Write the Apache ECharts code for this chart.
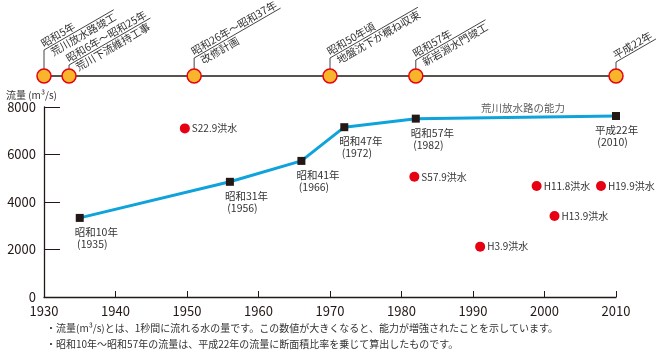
<!DOCTYPE html>
<html>
<head>
<meta charset="utf-8">
<script src="https://cdn.jsdelivr.net/npm/echarts@6/dist/echarts.min.js"></script>
<style>
html,body{margin:0;padding:0;background:#fff;}
#chart{width:670px;height:355px;}
</style>
</head>
<body>
<div id="chart"></div>
<script>
// ---- data ----
const eventYears = [1930, 1933.5, 1951, 1970, 1982, 2010];
const eventDates = ['昭和5年', '昭和6年～昭和25年', '昭和26年～昭和37年', '昭和50年頃', '昭和57年', '平成22年'];
const eventNotes = ['荒川放水路竣工', '荒川下流維持工事', '改修計画', '地盤沈下が概ね収束', '新岩淵水門竣工', ''];

const capacityYears = [1935, 1956, 1966, 1972, 1982, 2010];
const capacityValues = [3330, 4850, 5730, 7150, 7510, 7620];
const capacityEras = ['昭和10年', '昭和31年', '昭和41年', '昭和47年', '昭和57年', '平成22年'];

const floodNames = ['S22.9洪水', 'S57.9洪水', 'H3.9洪水', 'H11.8洪水', 'H13.9洪水', 'H19.9洪水'];
const floodYears = [1949.7, 1981.8, 1991.0, 1998.9, 2001.4, 2007.9];
const floodValues = [7100, 5060, 2120, 4670, 3410, 4670];

const capacityCaption = '荒川放水路の能力';
const capacityCaptionAt = [1997, 7970];

const xMin = 1930, xMax = 2010, xStep = 10;
const yMin = 0, yMax = 8000, yStep = 2000;

const yAxisTitle = '流量 (m³/s)';
const footnotes = [
  '・流量(m³/s)とは、1秒間に流れる水の量です。この数値が大きくなると、能力が増強されたことを示しています。',
  '・昭和10年～昭和57年の流量は、平成22年の流量に断面積比率を乗じて算出したものです。'
];

// ---- layout / style ----
const FONT = '"Noto Sans CJK JP", "Noto Sans", sans-serif';
const TEXT = '#333';
const stemHeights = [26, 11, 18, 18, 16, 14];
const tlFont = '10.5px ' + FONT;
const measureCtx = document.createElement('canvas').getContext('2d');
measureCtx.font = tlFont;
function textW(s) { return s ? measureCtx.measureText(s).width : 0; }

const chart = echarts.init(document.getElementById('chart'), null, {renderer: 'canvas'});

const option = {
  animation: false,
  backgroundColor: '#fff',
  textStyle: {fontFamily: FONT},
  title: [
    {text: yAxisTitle, left: 6, top: 89, padding: 0,
     textStyle: {fontSize: 10, lineHeight: 12, fontWeight: 'normal', color: TEXT, fontFamily: FONT}},
    {text: footnotes.join('\n'), left: 46, top: 320, padding: 0,
     textStyle: {fontSize: 10, lineHeight: 16, fontWeight: 'normal', color: TEXT, fontFamily: FONT}}
  ],
  grid: [
    {left: 44, right: 54, top: 107, bottom: 58, containLabel: false, outerBoundsMode: 'none'},
    {left: 44, right: 54, top: 66, height: 20, containLabel: false, outerBoundsMode: 'none'}
  ],
  xAxis: [
    {type: 'value', gridIndex: 0, min: xMin, max: xMax, interval: xStep,
     axisLine: {show: true, lineStyle: {color: '#231815', width: 1.3}},
     axisTick: {show: true, inside: true, length: 6, lineStyle: {color: '#231815', width: 1}},
     axisLabel: {color: '#231815', fontSize: 13, margin: 8, fontFamily: FONT, formatter: v => String(v)},
     splitLine: {show: false}},
    {type: 'value', gridIndex: 1, min: xMin, max: xMax, show: false}
  ],
  yAxis: [
    {type: 'value', gridIndex: 0, min: yMin, max: yMax, interval: yStep,
     axisLine: {show: true, lineStyle: {color: '#231815', width: 1.3}},
     axisTick: {show: true, inside: true, length: 16, lineStyle: {color: '#231815', width: 1}},
     axisLabel: {color: '#231815', fontSize: 13, margin: 8, fontFamily: FONT, formatter: v => String(v)},
     splitLine: {show: false}},
    {type: 'value', gridIndex: 1, min: -1, max: 1, show: false}
  ],
  series: [
    // timeline base line
    {type: 'line', xAxisIndex: 1, yAxisIndex: 1, symbol: 'none', silent: true, z: 1,
     lineStyle: {color: '#231815', width: 1.5},
     data: [[eventYears[0], 0], [eventYears[eventYears.length - 1], 0]]},
    // timeline leaders and texts
    {type: 'custom', xAxisIndex: 1, yAxisIndex: 1, z: 2, silent: true,
     data: eventYears.map(y => [y, 0]),
     renderItem: function (params, api) {
       const i = params.dataIndex;
       const p = api.coord([api.value(0), 0]);
       const sx = p[0];
       const sy = p[1] - stemHeights[i];
       const ang = Math.PI / 6;
       const L = Math.max(textW(eventDates[i]), textW(eventNotes[i]) + 4) + 3;
       const ex = sx + L * Math.cos(ang), ey = sy - L * Math.sin(ang);
       const children = [
         {type: 'line', shape: {x1: sx, y1: p[1], x2: sx, y2: sy}, style: {stroke: '#444', lineWidth: 1}},
         {type: 'line', shape: {x1: sx, y1: sy, x2: ex, y2: ey}, style: {stroke: '#444', lineWidth: 1}},
         {type: 'text', x: sx, y: sy, rotation: ang,
          style: {text: eventDates[i], x: 1, y: -1, font: tlFont, fill: TEXT, align: 'left', verticalAlign: 'bottom'}}
       ];
       if (eventNotes[i]) {
         children.push({type: 'text', x: sx, y: sy, rotation: ang,
           style: {text: eventNotes[i], x: 5, y: 1, font: tlFont, fill: TEXT, align: 'left', verticalAlign: 'top'}});
       }
       return {type: 'group', children: children};
     }},
    // timeline circles
    {type: 'scatter', xAxisIndex: 1, yAxisIndex: 1, z: 3, symbol: 'circle', symbolSize: 14,
     itemStyle: {color: '#F8B52C', borderColor: '#E60012', borderWidth: 1.5, opacity: 1},
     data: eventYears.map(y => [y, 0])},
    // capacity line
    {type: 'line', xAxisIndex: 0, yAxisIndex: 0, z: 4, symbol: 'rect', symbolSize: 8,
     itemStyle: {color: '#231815'},
     lineStyle: {color: '#0EA3DA', width: 3},
     label: {show: true, position: 'bottom', distance: 4, align: 'left', offset: [-5, 0],
             fontSize: 10.5, lineHeight: 12, color: TEXT, fontFamily: FONT,
             formatter: p => capacityEras[p.dataIndex] + '\n (' + capacityYears[p.dataIndex] + ')'},
     data: capacityYears.map((y, i) => {
       const d = {value: [y, capacityValues[i]]};
       if (i === capacityYears.length - 1) d.label = {offset: [-21, 0]};
       return d;
     })},
    // floods
    {type: 'scatter', xAxisIndex: 0, yAxisIndex: 0, z: 4, symbol: 'circle', symbolSize: 10,
     itemStyle: {color: '#E60012', opacity: 1},
     label: {show: true, position: 'right', distance: 2, fontSize: 10, color: TEXT, fontFamily: FONT,
             formatter: p => floodNames[p.dataIndex]},
     data: floodYears.map((y, i) => [y, floodValues[i]])},
    // caption
    {type: 'scatter', xAxisIndex: 0, yAxisIndex: 0, z: 5, symbolSize: 0, silent: true,
     label: {show: true, position: 'inside', fontSize: 10.5, color: TEXT, fontFamily: FONT,
             formatter: () => capacityCaption},
     data: [capacityCaptionAt]}
  ]
};
chart.setOption(option);
</script>
</body>
</html>
